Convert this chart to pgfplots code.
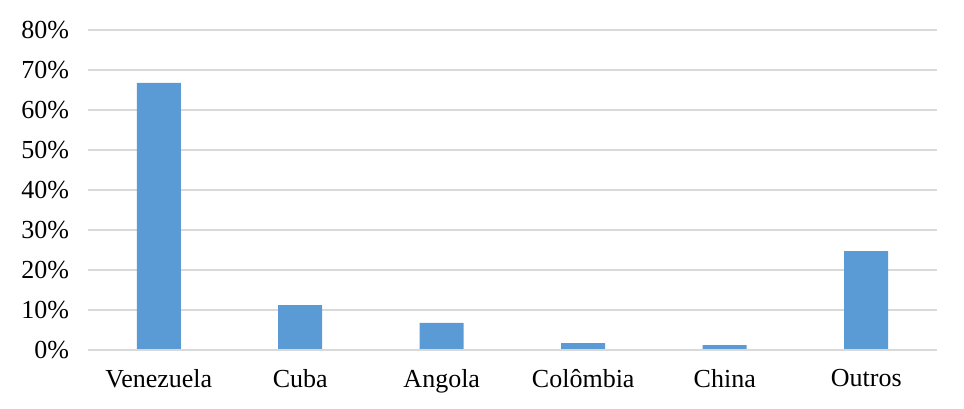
\documentclass[border=0pt]{standalone}
\usepackage{fontspec}
\setmainfont{Liberation Serif}
\usepackage{pgfplots}
\pgfplotsset{compat=1.18}
\definecolor{barblue}{HTML}{5B9BD5}
\definecolor{gridgray}{HTML}{D9D9D9}
\begin{document}
\fontsize{13}{15}\selectfont
\begin{tikzpicture}
\path[use as bounding box] (-44pt,-29pt) rectangle (438pt,175pt);
\begin{axis}[
  scale only axis, width=424.5pt, height=160pt,
  at={(0,0)}, anchor=south west,
  xmin=-0.5, xmax=5.5, ymin=0, ymax=80,
  xtick={0,1,2,3,4,5},
  xticklabels={Venezuela,Cuba,Angola,Colômbia,China,Outros},
  ytick={0,10,...,80},
  yticklabel={\pgfmathprintnumber{\tick}\%},
  /pgf/number format/assume math mode=true,
  tick label style={font=\fontsize{13}{15}\selectfont},
  major tick length=0pt,
  axis line style={draw=none},
  ymajorgrids, grid style={gridgray, line width=0.8pt},
  xticklabel style={yshift=-5pt},
  yticklabel style={xshift=-5pt},
  ybar, bar width=22pt,
  clip=false,
]
\addplot[fill=barblue, draw=none] coordinates {
  (0,66.8) (1,11.2) (2,6.8) (3,1.7) (4,1.2) (5,24.7)};
\draw[gridgray, line width=0.8pt] (axis cs:-0.5,0) -- (axis cs:5.5,0);
\end{axis}
\end{tikzpicture}
\end{document}
